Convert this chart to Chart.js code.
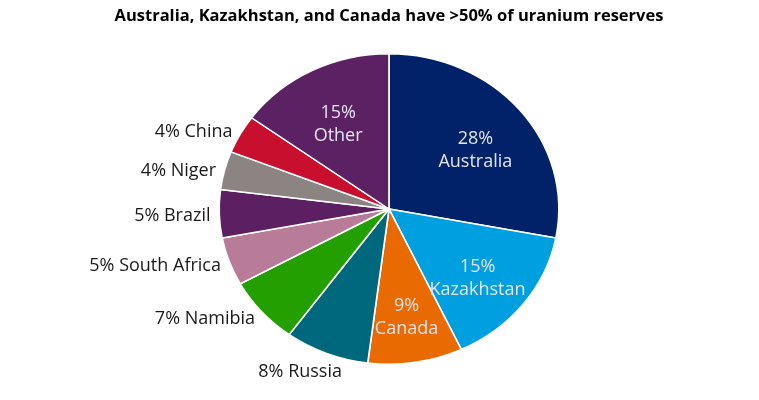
<!DOCTYPE html>
<html>
<head>
<meta charset="utf-8">
<script src="https://cdn.jsdelivr.net/npm/chart.js@4"></script>
<style>
html,body{margin:0;padding:0;background:#fff;}
#wrap{width:759px;height:400px;position:relative;}
</style>
</head>
<body>
<div id="wrap"><canvas id="c" width="759" height="400"></canvas></div>
<script>
const titleText = "Australia, Kazakhstan, and Canada have >50% of uranium reserves";
const categories = ["Australia","Kazakhstan","Canada","Russia","Namibia","South Africa","Brazil","Niger","China","Other"];
const shares = [28,15,9,8,7,5,5,4,4,15];
const sliceColors = ["#012169","#009FDF","#E96A00","#00687D","#23A000","#B97C98","#5B1F62","#8B8482","#C8102E","#5B2163"];
const insideLabel = [true,true,true,false,false,false,false,false,false,true];

const X_STRETCH = 1.094;

const stretchPlugin = {
  id: 'stretch',
  beforeDatasetsDraw(chart){
    const arc = chart.getDatasetMeta(0).data[0];
    const ctx = chart.ctx;
    ctx.save();
    ctx.translate(arc.x,0); ctx.scale(X_STRETCH,1); ctx.translate(-arc.x,0);
  },
  afterDatasetsDraw(chart){ chart.ctx.restore(); }
};

const labelPlugin = {
  id: 'labels',
  afterDraw(chart){
    const ctx = chart.ctx;
    const meta = chart.getDatasetMeta(0);
    ctx.save();
    ctx.fillStyle = '#000';
    ctx.font = 'bold 16.5px "Open Sans"';
    ctx.textAlign = 'center'; ctx.textBaseline = 'middle';
    ctx.fillText(titleText, 389, 16);
    ctx.restore();
    meta.data.forEach((arc, i) => {
      const mid = (arc.startAngle + arc.endAngle) / 2;
      const dx = Math.cos(mid), dy = Math.sin(mid);
      const R = arc.outerRadius;
      ctx.save();
      ctx.font = '18px "Open Sans"';
      ctx.textBaseline = 'middle';
      if (insideLabel[i]) {
        const r = R * 0.66;
        const px = arc.x + dx * r * X_STRETCH, py = arc.y + dy * r + 7;
        ctx.fillStyle = '#E4E4F2';
        ctx.textAlign = 'center';
        ctx.fillText(shares[i] + '%', px, py - 11.5);
        ctx.fillText(categories[i], px, py + 11.5);
      } else {
        const text = shares[i] + '% ' + categories[i];
        const r = R + 8;
        const px = arc.x + dx * r * X_STRETCH, py = arc.y + dy * r;
        ctx.fillStyle = '#1A1A1A';
        const w = ctx.measureText(text).width;
        if (Math.abs(dx) > 0.5) {
          ctx.textAlign = dx < 0 ? 'right' : 'left';
          ctx.fillText(text, px, py + 2);
        } else {
          ctx.textAlign = 'center';
          ctx.fillText(text, px + dx * w * 0.75, py + dy * 12);
        }
      }
      ctx.restore();
    });
  }
};

new Chart(document.getElementById('c'), {
  type: 'pie',
  data: {
    labels: categories,
    datasets: [{
      data: shares,
      backgroundColor: sliceColors,
      borderColor: '#ffffff',
      borderWidth: 1.5
    }]
  },
  options: {
    responsive: false,
    animation: false,
    layout: { padding: { top: 53, bottom: 35, left: 233, right: 214 } },
    plugins: {
      legend: { display: false },
      title: { display: false },
      tooltip: { enabled: false }
    }
  },
  plugins: [stretchPlugin, labelPlugin]
});
</script>
</body>
</html>
